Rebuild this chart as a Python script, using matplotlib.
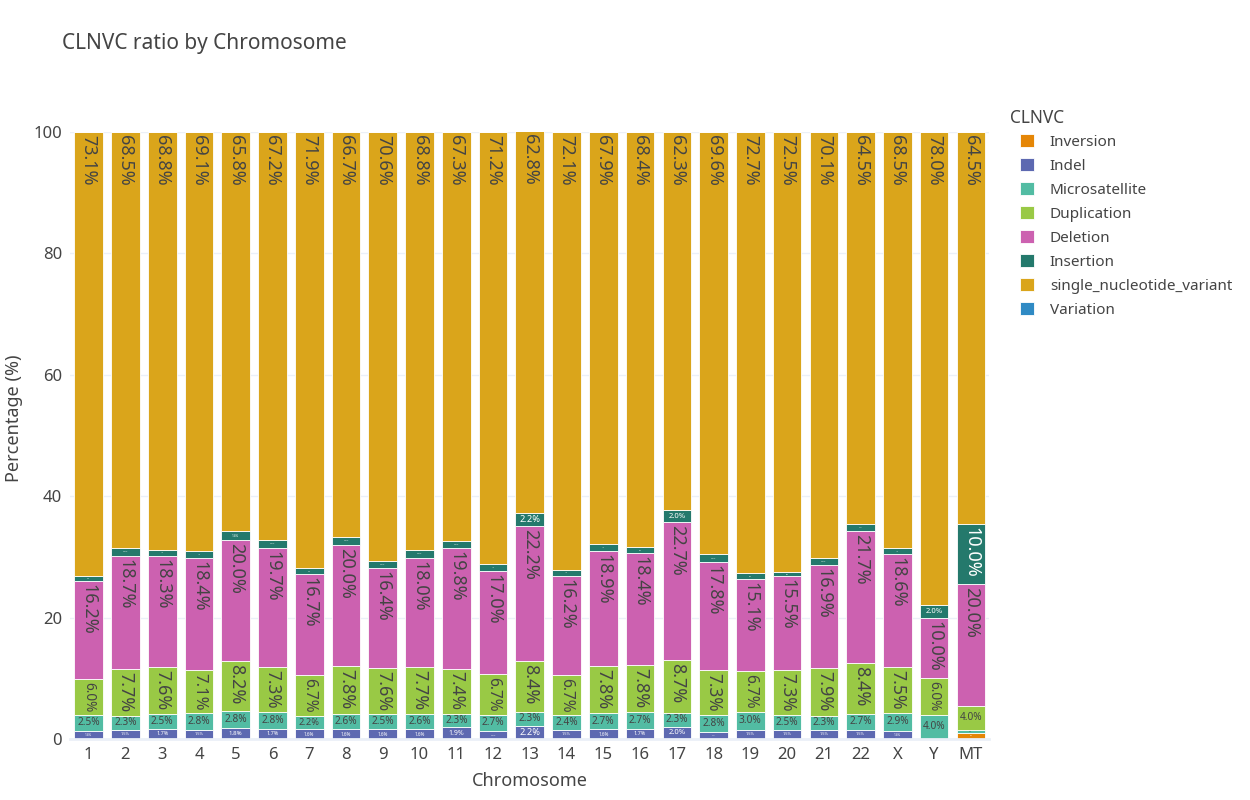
import matplotlib
matplotlib.use("Agg")
import matplotlib.pyplot as plt
import numpy as np

plt.rcParams['font.family'] = ['Noto Sans', 'DejaVu Sans']

chroms = [str(i) for i in range(1, 23)] + ['X', 'Y', 'MT']

inversion = [0] * 24 + [1.0]
indel = [1.4, 1.5, 1.7, 1.5, 1.8, 1.7, 1.6, 1.6, 1.6, 1.6, 1.9, 1.3, 2.2,
         1.5, 1.6, 1.7, 2.0, 1.2, 1.5, 1.5, 1.5, 1.5, 1.4, 0, 0]
microsatellite = [2.5, 2.3, 2.5, 2.8, 2.8, 2.8, 2.2, 2.6, 2.5, 2.6, 2.3, 2.7, 2.3,
                  2.4, 2.7, 2.7, 2.3, 2.8, 3.0, 2.5, 2.3, 2.7, 2.9, 4.0, 0.5]
duplication = [6.0, 7.7, 7.6, 7.1, 8.2, 7.3, 6.7, 7.8, 7.6, 7.7, 7.4, 6.7, 8.4,
               6.7, 7.8, 7.8, 8.7, 7.3, 6.7, 7.3, 7.9, 8.4, 7.5, 6.0, 4.0]
deletion = [16.2, 18.7, 18.3, 18.4, 20.0, 19.7, 16.7, 20.0, 16.4, 18.0, 19.8, 17.0, 22.2,
            16.2, 18.9, 18.4, 22.7, 17.8, 15.1, 15.5, 16.9, 21.7, 18.6, 10.0, 20.0]
insertion = [0.8, 1.3, 1.1, 1.1, 1.4, 1.3, 0.9, 1.3, 1.3, 1.3, 1.3, 1.1, 2.2,
             1.1, 1.1, 1.0, 2.0, 1.3, 1.0, 0.7, 1.3, 1.2, 1.1, 2.0, 10.0]
snv = [73.1, 68.5, 68.8, 69.1, 65.8, 67.2, 71.9, 66.7, 70.6, 68.8, 67.3, 71.2, 62.8,
       72.1, 67.9, 68.4, 62.3, 69.6, 72.7, 72.5, 70.1, 64.5, 68.5, 78.0, 64.5]
variation = [0] * 25

series = [
    ('Inversion', inversion, '#E58606', 'white'),
    ('Indel', indel, '#5D69B1', 'white'),
    ('Microsatellite', microsatellite, '#52BCA3', '#444444'),
    ('Duplication', duplication, '#99C945', '#444444'),
    ('Deletion', deletion, '#CC61B0', '#444444'),
    ('Insertion', insertion, '#24796C', 'white'),
    ('single_nucleotide_variant', snv, '#DAA51B', '#444444'),
    ('Variation', variation, '#2F8AC4', 'white'),
]

W, H = 1250, 800
ax_l, ax_w = 70.3, 919.0
fig = plt.figure(figsize=(12.5, 8), dpi=100)
ax = fig.add_axes([ax_l / W, 61 / H, ax_w / W, 607 / H])

x = np.arange(len(chroms))
bar_w = 0.78
bottom = np.zeros(len(chroms))
handles = []
segments = []
for name, vals, color, tcol in series:
    vals = np.array(vals, dtype=float)
    b = ax.bar(x, vals, bar_w, bottom=bottom, color=color, edgecolor='white',
               linewidth=0.6, label=name, zorder=2)
    handles.append(b)
    for i, v in enumerate(vals):
        if v > 0:
            segments.append((i, bottom[i], v, tcol))
    bottom += vals

ax.set_xlim(-0.5, len(chroms) - 0.5)
ax.set_ylim(0, 100)
ax.set_xticks(x)
ax.set_xticklabels(chroms)
ax.set_yticks(range(0, 101, 20))
ax.tick_params(length=0, labelsize=12, colors='#444444', pad=6)
ax.grid(axis='y', color='#EBF0F8', linewidth=1, zorder=0)
for s in ['top', 'right', 'left']:
    ax.spines[s].set_visible(False)
ax.spines['bottom'].set_color('#EBF0F8')
ax.spines['bottom'].set_linewidth(2)

ax.set_xlabel('Chromosome', fontsize=13, color='#444444', labelpad=6)
fig.text(14 / W, 1 - 418 / H, 'Percentage (%)', fontsize=13, color='#444444',
         rotation=90, ha='center', va='center')
fig.text(62 / W, 1 - 43 / H, 'CLNVC ratio by Chromosome', fontsize=15,
         color='#444444', va='center')

# bar labels, sized to fit their segment like plotly's inside text
renderer = fig.canvas.get_renderer()
px_per_x = ax_w / len(chroms)
px_per_y = 607 / 100
bw_px = bar_w * px_per_x
pad = 3
full = 13
for i, base, v, tcol in segments:
    label = f'{v:.1f}%'
    t = ax.text(0, 0, label, fontsize=full)
    bb = t.get_window_extent(renderer)
    t.remove()
    tw, th = bb.width, bb.height * 0.8
    sh = v * px_per_y
    sc_h = min(1, (bw_px - 2 * pad) / tw, max(sh - 2 * pad, 1) / th)
    sc_r = min(1, max(sh - 2 * pad, 1) / tw, (bw_px - 2 * pad) / th)
    if sc_r >= sc_h:
        rot, sc = 270, sc_r
    else:
        rot, sc = 0, sc_h
    fs = full * sc
    top = base + v
    if sc < 1:
        y = base + v / 2
        va = 'center'
    else:
        y = top - pad / px_per_y
        va = 'top'
    ax.text(i, y, label, fontsize=fs, rotation=rot, ha='center', va=va,
            color=tcol, zorder=3)

fig.text(1010 / W, 1 - 118 / H, 'CLNVC', fontsize=12.5, color='#444444',
         va='center')
leg = fig.legend(handles=handles, labels=[s[0] for s in series],
                 loc='upper left', bbox_to_anchor=(1020 / W, 1 - 134 / H),
                 frameon=False, fontsize=11, handlelength=0.9,
                 handleheight=0.9, labelspacing=0.55, handletextpad=1.05,
                 borderaxespad=0, borderpad=0)
for t in leg.get_texts():
    t.set_color('#444444')

fig.savefig('out.png', dpi=100, facecolor='white')
